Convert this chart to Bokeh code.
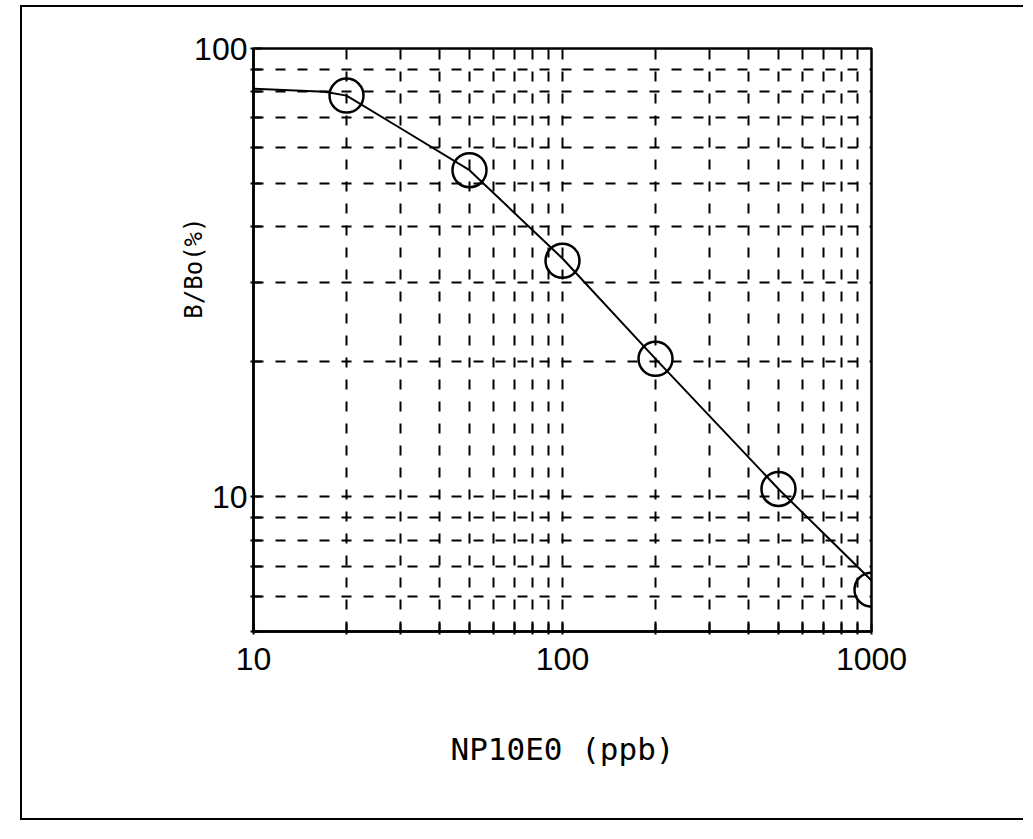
import math
from bokeh.plotting import figure
from bokeh.models import FixedTicker, Title
from bokeh.embed import file_html
from bokeh.resources import INLINE

# Data
x_points = [20, 50, 100, 200, 500, 1000]
y_points = [78.5, 53.5, 33.6, 20.3, 10.4, 6.2]

x_curve = [10, 17, 20, 30, 50, 100, 200, 500, 1000]
y_curve = [81.3, 80.1, 78.5, 66.3, 53.5, 34, 20.3, 10.4, 6.5]

x_major = [10, 100, 1000]
x_major_labels = ["10", "100", "1000"]
x_minor = [20, 30, 40, 50, 60, 70, 80, 90, 200, 300, 400, 500, 600, 700, 800, 900]
y_major = [10, 100]
y_major_labels = ["10", "100"]
y_minor = [5, 6, 7, 8, 9, 20, 30, 40, 50, 60, 70, 80, 90]

x_title = "NP10E0 (ppb)"
y_title = "B/Bo(%)"

p = figure(width=1003, height=815, x_axis_type="log", y_axis_type="log",
           x_range=(10, 1000), y_range=(5, 100),
           output_backend="svg", toolbar_location=None,
           min_border_left=231, min_border_right=154,
           min_border_top=41, min_border_bottom=191)
p.margin = (5, 0, 0, 20)
p.styles = {"border-left": "2px solid black", "border-top": "2px solid black",
            "border-bottom": "2px solid black"}

p.background_fill_color = "white"
p.border_fill_color = "white"
p.outline_line_color = "black"
p.outline_line_width = 2.5

p.xaxis.ticker = FixedTicker(ticks=x_major, minor_ticks=x_minor)
p.yaxis.ticker = FixedTicker(ticks=y_major, minor_ticks=y_minor)
p.xaxis.major_label_overrides = dict(zip(x_major, x_major_labels))
p.yaxis.major_label_overrides = dict(zip(y_major, y_major_labels))

for ax in (p.xaxis, p.yaxis):
    ax.axis_line_color = "black"
    ax.axis_line_width = 2.5
    ax.major_tick_line_color = "black"
    ax.minor_tick_line_color = "black"
    ax.major_tick_line_width = 2
    ax.minor_tick_line_width = 2
    ax.major_tick_in = 8
    ax.major_tick_out = 3
    ax.minor_tick_in = 8
    ax.minor_tick_out = 3
    ax.major_label_text_font = "Liberation Sans"
    ax.major_label_text_font_size = "32px"
    ax.major_label_text_color = "black"

p.xaxis.major_label_standoff = 13
p.yaxis.major_label_standoff = 3

p.xaxis.axis_label = x_title
p.xaxis.axis_label_text_font = "DejaVu Sans Mono"
p.xaxis.axis_label_text_font_style = "normal"
p.xaxis.axis_label_text_font_size = "31px"
p.xaxis.axis_label_text_color = "black"
p.xaxis.axis_label_standoff = 58

for g in (p.xgrid, p.ygrid):
    g.grid_line_color = "black"
    g.grid_line_width = 2
    g.grid_line_dash = "10 12"
    g.minor_grid_line_color = "black"
    g.minor_grid_line_width = 2
    g.minor_grid_line_dash = "10 12"

p.line(x_curve, y_curve, line_color="black", line_width=2)
p.scatter(x_points, y_points, marker="circle", size=34, fill_alpha=0,
          line_color="black", line_width=2.5)

p.add_layout(Title(text=y_title, align="right", offset=169,
                   vertical_align="bottom", standoff=-32,
                   text_font="DejaVu Sans Mono", text_font_style="normal",
                   text_font_size="24px", text_color="black"), "left")

open("out.html", "w").write(file_html(p, INLINE))
